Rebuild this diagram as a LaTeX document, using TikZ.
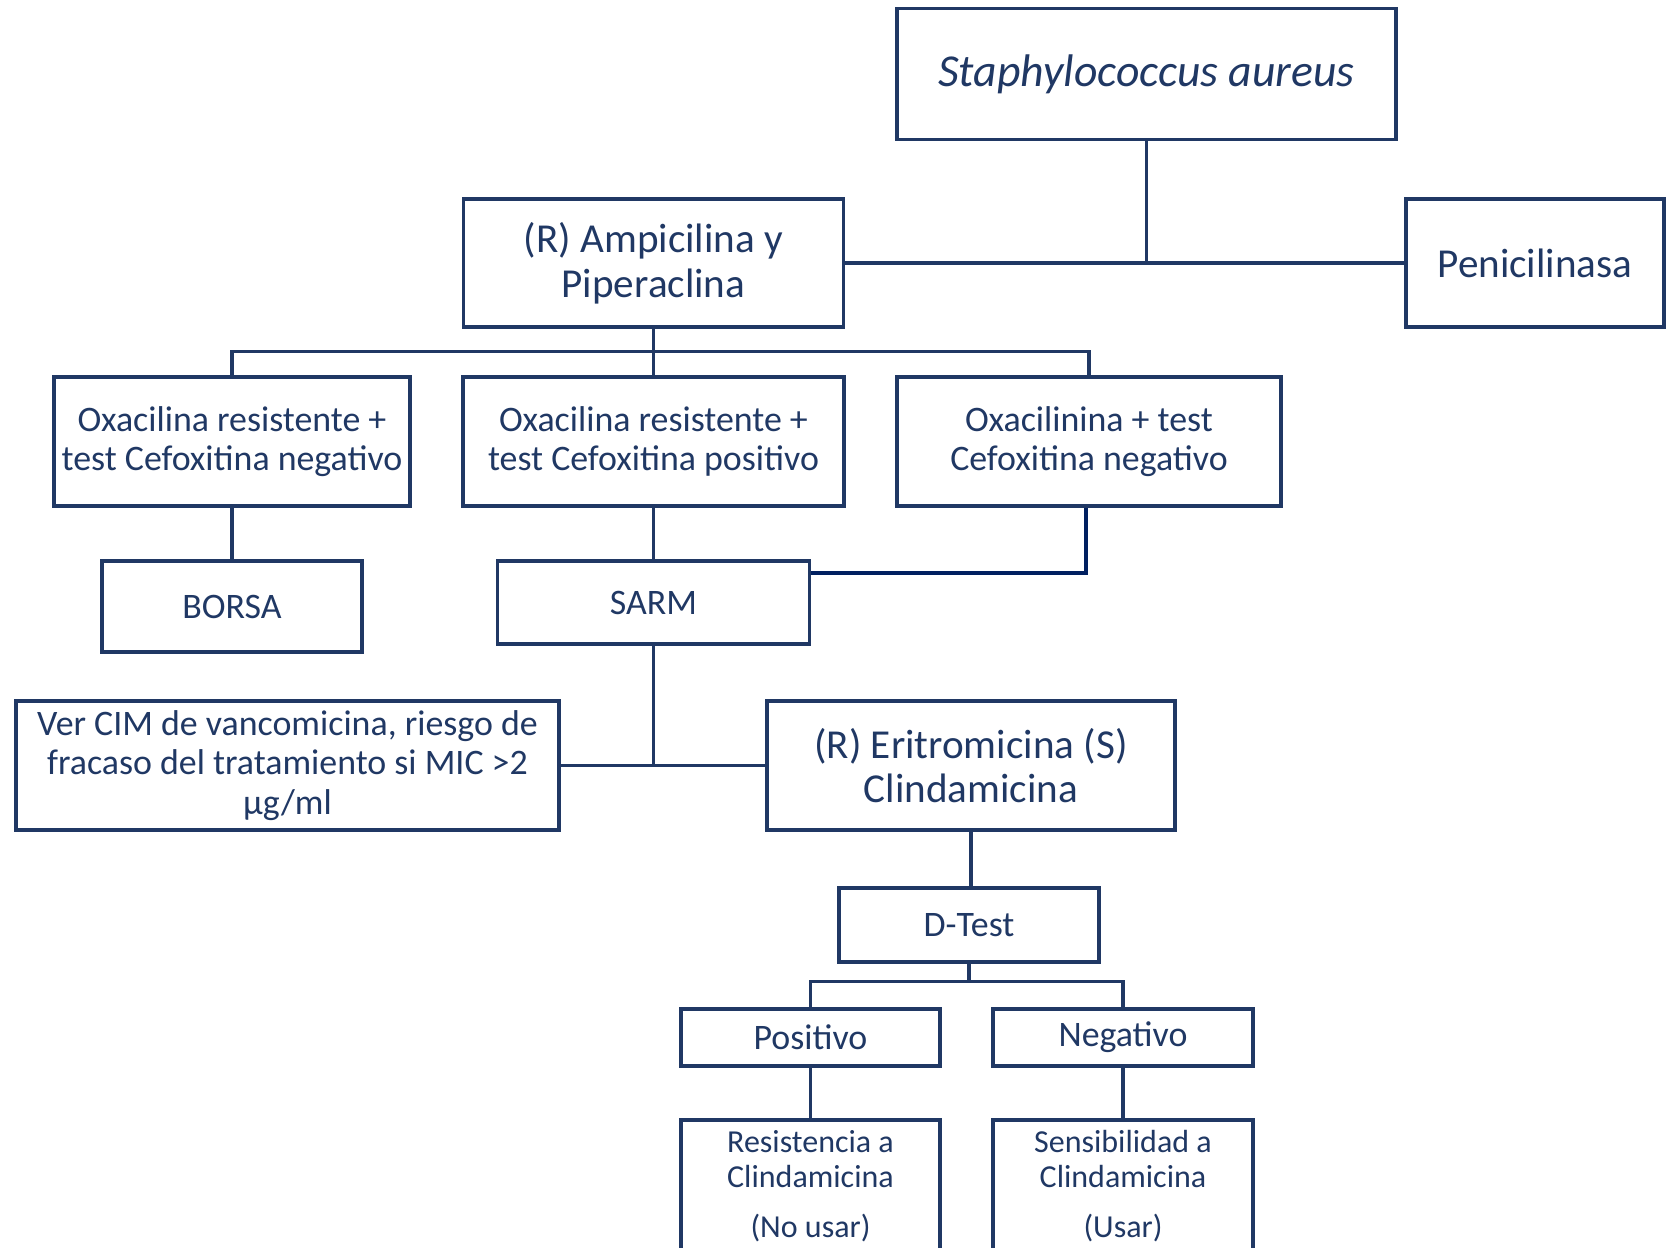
\documentclass[tikz,border=0pt]{standalone}
\usepackage{fontspec}
\setmainfont{Carlito}
\definecolor{navy}{HTML}{203864}
\definecolor{deepnavy}{HTML}{002060}
\begin{document}
\begin{tikzpicture}[x=0.01cm, y=-0.01cm,
    box/.style={draw=navy, line width=1pt, text=navy, align=center, inner sep=2pt},
    big/.style={box, font=\fontsize{11.7}{12.7}\selectfont},
    mid/.style={box, font=\fontsize{10.2}{11.3}\selectfont},
    small/.style={box, font=\fontsize{9.1}{10}\selectfont},
    link/.style={draw=navy, line width=0.9pt}
]
\path[use as bounding box, clip] (0,0) rectangle (1666,1248);

\node[box, font=\fontsize{13}{14}\itshape, minimum width=4.99cm, minimum height=1.31cm] (staph) at (1146.5,74) {Staphylococcus aureus};
\node[big, minimum width=3.8cm, minimum height=1.28cm] (amp) at (653.5,263) {(R) Ampicilina y\\Piperaclina};
\node[big, minimum width=2.58cm, minimum height=1.28cm] (pen) at (1535,263) {Penicilinasa};

\node[mid, minimum width=3.56cm, minimum height=1.29cm] (oxa1) at (232,441.5) {Oxacilina resistente +\\test Cefoxitina negativo};
\node[mid, minimum width=3.81cm, minimum height=1.29cm] (oxa2) at (653.5,441.5) {Oxacilina resistente +\\test Cefoxitina positivo};
\node[mid, minimum width=3.84cm, minimum height=1.29cm] (oxa3) at (1089,441.5) {Oxacilinina + test\\Cefoxitina negativo};

\node[mid, minimum width=2.6cm, minimum height=0.91cm] (borsa) at (232,606.5) {BORSA};
\node[mid, minimum width=3.12cm, minimum height=0.83cm] (sarm) at (653.5,602.5) {SARM};

\node[mid, minimum width=5.43cm, minimum height=1.29cm] (ver) at (287.5,765.5) {Ver CIM de vancomicina, riesgo de\\fracaso del tratamiento si MIC >2\\µg/ml};
\node[big, minimum width=4.08cm, minimum height=1.29cm] (eri) at (971,765.5) {(R) Eritromicina (S)\\Clindamicina};

\node[mid, minimum width=2.6cm, minimum height=0.74cm] (dtest) at (969,925) {D-Test};
\node[mid, minimum width=2.59cm, minimum height=0.57cm] (pos) at (810.5,1037.5) {Positivo};
\node[mid, minimum width=2.6cm, minimum height=0.57cm] (neg) at (1123,1037.5) {Negativo};
\node[small, minimum width=2.59cm, minimum height=1.32cm] (res) at (810.5,1186) {Resistencia a\\Clindamicina\\[4.2pt](No usar)};
\node[small, minimum width=2.6cm, minimum height=1.32cm] (sen) at (1123,1186) {Sensibilidad a\\Clindamicina\\[4.2pt](Usar)};

\coordinate (aj) at ([yshift=-2.3mm]amp.south);
\coordinate (dj) at ([yshift=-1.8mm]dtest.south);

\draw[link] (amp.east) -- (pen.west);
\draw[link] (staph.south) -- (staph.south |- amp.east);
\draw[link] (amp.south) -- (aj);
\draw[link] (oxa1.north) |- (aj) -| (oxa3.north);
\draw[link] (aj) -- (oxa2.north);
\draw[link] (oxa1.south) -- (borsa.north);
\draw[link] (oxa2.south) -- (sarm.north);
\draw[link, draw=deepnavy, line width=1.1pt] ([xshift=-0.3mm]oxa3.south) |- ([yshift=-1.4mm]sarm.north east);
\draw[link] (sarm.south) -- (sarm.south |- ver.east);
\draw[link] (ver.east) -- (eri.west);
\draw[link] (eri.south) -- (eri.south |- dtest.north);
\draw[link] (dtest.south) -- (dj);
\draw[link] (pos.north) |- (dj) -| (neg.north);
\draw[link] (pos.south) -- (res.north);
\draw[link] (neg.south) -- (sen.north);
\end{tikzpicture}
\end{document}
